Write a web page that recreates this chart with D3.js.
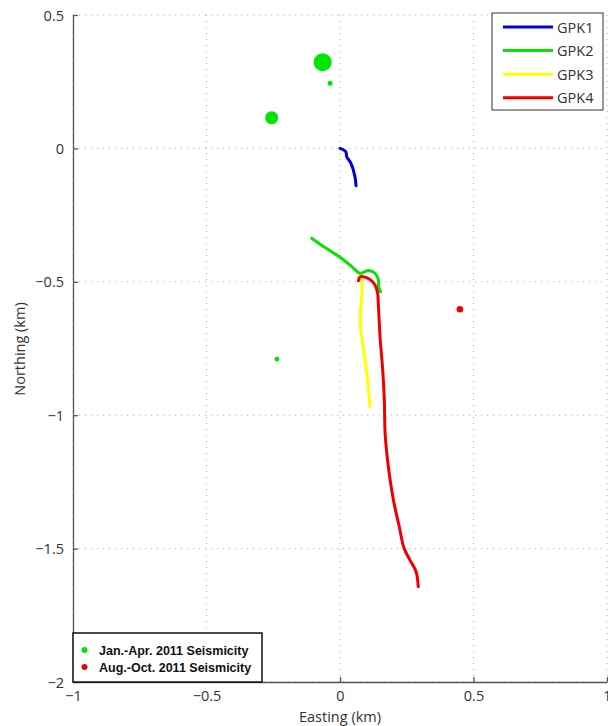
<!DOCTYPE html>
<html>
<head>
  <meta charset="utf-8">
  <script src="https://d3js.org/d3.v7.min.js"></script>
  <style>
    body { margin: 0; background: #fff; }
    text { font-family: "Open Sans", "Noto Sans", sans-serif; fill: #333; }
    .legend2 text { font-family: "Liberation Sans", Arial, sans-serif; font-weight: bold; fill: #111; }
  </style>
</head>
<body>
<script>
  // well tracks, easting / northing in km
  var gpk1 = [[0.0, 0.0], [0.022, -0.013], [0.025, -0.031], [0.041, -0.056], [0.056, -0.106], [0.06, -0.14]];
  var gpk2 = [[-0.106, -0.337], [-0.062, -0.368], [0.0, -0.408], [0.044, -0.443], [0.075, -0.468],
              [0.106, -0.458], [0.131, -0.468], [0.144, -0.493], [0.144, -0.518], [0.152, -0.537]];
  var gpk3 = [[0.069, -0.481], [0.081, -0.5], [0.079, -0.581], [0.075, -0.643], [0.081, -0.706],
              [0.094, -0.793], [0.106, -0.893], [0.112, -0.968]];
  var gpk4 = [[0.069, -0.496], [0.077, -0.481], [0.112, -0.491], [0.131, -0.512], [0.140, -0.537],
              [0.144, -0.593], [0.150, -0.706], [0.160, -0.831], [0.166, -0.943], [0.169, -1.068],
              [0.181, -1.193], [0.2, -1.318], [0.222, -1.418], [0.240, -1.499], [0.262, -1.543],
              [0.285, -1.587], [0.293, -1.643]];
  var wellNames = ["GPK1", "GPK2", "GPK3", "GPK4"];
  var wellColors = ["#0000dd", "#00e600", "#ffff00", "#ee0000"];

  // seismicity: easting, northing, relative size
  var quakesJanApr = [[-0.065, 0.323, 9], [-0.037, 0.244, 2.5], [-0.256, 0.115, 6.5], [-0.236, -0.79, 2.3]];
  var quakesAugOct = [[0.449, -0.603, 3.3]];
  var quakeLabels = ["Jan.-Apr. 2011 Seismicity", "Aug.-Oct. 2011 Seismicity"];

  var xTicks = [-1, -0.5, 0, 0.5, 1];
  var yTicks = [-2, -1.5, -1, -0.5, 0, 0.5];

  var W = 608, H = 726;
  var margin = {left: 73, top: 15, right: 1, bottom: 44};
  var w = W - margin.left - margin.right, h = H - margin.top - margin.bottom;

  var svg = d3.select("body").append("svg").attr("width", W).attr("height", H);
  var g = svg.append("g").attr("transform", "translate(" + margin.left + "," + margin.top + ")");

  var x = d3.scaleLinear().domain([-1, 1]).range([0, w]);
  var y = d3.scaleLinear().domain([-2, 0.5]).range([h, 0]);
  var fmt = d3.format("~g");

  // dotted grid
  g.selectAll(".gx").data(xTicks).enter().append("line")
    .attr("x1", x).attr("x2", x).attr("y1", 0).attr("y2", h)
    .attr("stroke", "#aaa").attr("stroke-dasharray", "1,5");
  g.selectAll(".gy").data(yTicks).enter().append("line")
    .attr("y1", y).attr("y2", y).attr("x1", 0).attr("x2", w)
    .attr("stroke", "#aaa").attr("stroke-dasharray", "1,5");

  // axes, ticks pointing inward
  var xa = g.append("g").attr("transform", "translate(0," + h + ")")
    .call(d3.axisBottom(x).tickValues(xTicks).tickFormat(fmt).tickSizeInner(-5).tickSizeOuter(0).tickPadding(9));
  var ya = g.append("g")
    .call(d3.axisLeft(y).tickValues(yTicks).tickFormat(fmt).tickSizeInner(-5).tickSizeOuter(0).tickPadding(9));
  [xa, ya].forEach(function (a) {
    a.select(".domain").attr("stroke", "#555").attr("stroke-width", 1.3);
    a.selectAll(".tick line").attr("stroke", "#555").attr("stroke-width", 1.3);
    a.selectAll(".tick text").style("font-size", "14.5px").attr("fill", "#333")
      .style("font-family", "'Open Sans', sans-serif");
  });
  ya.selectAll(".tick text").attr("dy", "0.35em");

  svg.append("text").attr("x", margin.left + x(0)).attr("y", 722)
    .attr("text-anchor", "middle").style("font-size", "14.5px").text("Easting (km)");
  svg.append("text").attr("transform", "translate(25," + (margin.top + y(-0.752)) + ") rotate(-90)")
    .attr("text-anchor", "middle").style("font-size", "14.5px").text("Northing (km)");

  // well tracks
  var line = d3.line().x(function (d) { return x(d[0]); }).y(function (d) { return y(d[1]); })
    .curve(d3.curveCatmullRom);
  [gpk1, gpk2, gpk3, gpk4].forEach(function (track, i) {
    g.append("path").datum(track).attr("d", line).attr("fill", "none")
      .attr("stroke", wellColors[i]).attr("stroke-width", 3)
      .attr("stroke-linecap", "round").attr("stroke-linejoin", "round");
  });

  // seismicity
  [[quakesJanApr, wellColors[1]], [quakesAugOct, wellColors[3]]].forEach(function (set) {
    g.selectAll(null).data(set[0]).enter().append("circle")
      .attr("cx", function (d) { return x(d[0]); })
      .attr("cy", function (d) { return y(d[1]); })
      .attr("r", function (d) { return d[2]; })
      .attr("fill", set[1]);
  });

  // well legend
  var lg = svg.append("g").attr("transform", "translate(492,13)");
  lg.append("rect").attr("width", 111).attr("height", 97)
    .attr("fill", "#fff").attr("stroke", "#333").attr("stroke-width", 1);
  wellNames.forEach(function (n, i) {
    var yy = 14 + i * 23.6;
    lg.append("line").attr("x1", 11).attr("x2", 61).attr("y1", yy).attr("y2", yy)
      .attr("stroke", wellColors[i]).attr("stroke-width", 3);
    lg.append("text").attr("x", 65).attr("y", yy + 5.5).style("font-size", "14.5px").text(n);
  });

  // seismicity legend
  var lg2 = svg.append("g").attr("class", "legend2").attr("transform", "translate(73,633)");
  lg2.append("rect").attr("width", 189).attr("height", 49)
    .attr("fill", "#fff").attr("stroke", "#111").attr("stroke-width", 1.5);
  quakeLabels.forEach(function (n, i) {
    var yy = 17 + i * 17;
    lg2.append("circle").attr("cx", 11.5).attr("cy", yy).attr("r", 3)
      .attr("fill", i === 0 ? wellColors[1] : wellColors[3]);
    lg2.append("text").attr("x", 26).attr("y", yy + 4.5).style("font-size", "12.5px").text(n);
  });
</script>
</body>
</html>
